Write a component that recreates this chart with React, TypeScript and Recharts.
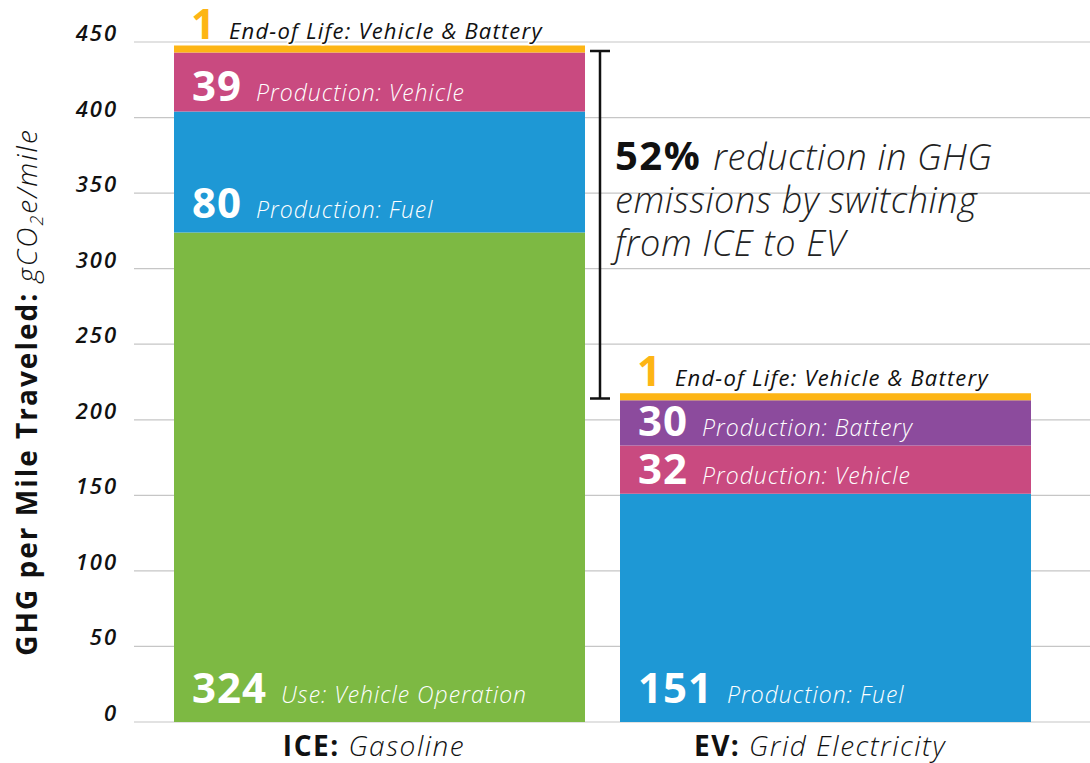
import { BarChart, Bar, XAxis, YAxis, CartesianGrid, LabelList, ReferenceLine } from 'recharts'

const vehicles = ['ICE', 'EV']
const fuelTypes = ['Gasoline', 'Grid Electricity']
const useOperation = [324, 0]
const productionFuel = [80, 151]
const productionVehicle = [39, 32]
const productionBattery = [0, 30]
const endOfLife = [1, 1]
const yTicks = [0, 50, 100, 150, 200, 250, 300, 350, 400, 450]
const reductionText = ['reduction in GHG', 'emissions by switching', 'from ICE to EV']
const reductionPct = '52%'

const FONT = "'Open Sans', sans-serif"
const GREEN = '#7DB943'
const BLUE = '#1E98D5'
const PINK = '#C94A80'
const PURPLE = '#8C4B9D'
const ORANGE = '#FDB515'

const data = vehicles.map((v, i) => ({
  name: v,
  fuel: fuelTypes[i],
  use: useOperation[i],
  prodFuel: productionFuel[i],
  prodVehicle: productionVehicle[i],
  prodBattery: productionBattery[i],
  eol: endOfLife[i],
}))

const totals = data.map(d => d.use + d.prodFuel + d.prodVehicle + d.prodBattery + d.eol)

// white number + italic description, sitting near the bottom of each segment
const segmentLabel = (desc: string) => (props: any) => {
  const { x, y, height, value } = props
  const v = Number(value)
  if (!v) return null
  const h = Number(height)
  const base = Number(y) + h - Math.min(19, 6 + h * 0.07)
  return (
    <text x={Number(x) + 18} y={base} fill="#fff" fontFamily={FONT}>
      <tspan fontSize={42} fontWeight={700} letterSpacing={1}>{v}</tspan>
      <tspan dx={14} fontSize={23} fontStyle="italic" fontWeight={300} letterSpacing={1}>{desc}</tspan>
    </text>
  )
}

const eolLabel = (props: any) => {
  const { x, y, value } = props
  return (
    <text
      x={Number(x) + 17}
      y={Number(y) - 7}
      fontFamily={FONT}
      stroke="#fff"
      strokeWidth={3}
      strokeLinejoin="round"
      paintOrder="stroke"
    >
      <tspan fontSize={42} fontWeight={700} fill={ORANGE}>{value}</tspan>
      <tspan dx={14} fontSize={22} fontStyle="italic" fontWeight={400} fill="#111" letterSpacing={1.2}>End-of Life: Vehicle &amp; Battery</tspan>
    </text>
  )
}

const YTick = ({ x, y, payload }: any) => (
  <text x={x} y={y - 1} textAnchor="end" fontFamily={FONT} fontSize={22} fontStyle="italic" fontWeight={600} letterSpacing={2} fill="#111">
    {payload.value}
  </text>
)

const XTick = ({ x, y, payload, index }: any) => (
  <text x={x - 5} y={y + 34} textAnchor="middle" fontFamily={FONT} fontSize={28} letterSpacing={1.5} fill="#111">
    <tspan fontWeight={700}>{payload.value}: </tspan>
    <tspan fontStyle="italic" fontWeight={300}>{fuelTypes[index]}</tspan>
  </text>
)

const YTitle = (props: any) => {
  const vb = props.viewBox || { y: 42, height: 680 }
  const cy = vb.y + vb.height / 2 + 10
  return (
    <text transform={`translate(37, ${cy}) rotate(-90)`} textAnchor="middle" fontFamily={FONT} fill="#111" letterSpacing={2}>
      <tspan fontSize={28} fontWeight={700}>GHG per Mile Traveled: </tspan>
      <tspan fontSize={28} fontStyle="italic" fontWeight={300}>gCO</tspan>
      <tspan fontSize={18} fontStyle="italic" fontWeight={300} dy={6}>2</tspan>
      <tspan fontSize={28} fontStyle="italic" fontWeight={300} dy={-6}>e/mile</tspan>
    </text>
  )
}

// bracket between the two stack tops, plus the reduction note
const Bracket = (props: any) => {
  const { x1, y1, y2 } = props
  const x = Number(x1) - 2
  const top = Math.min(y1, y2)
  const bot = Math.max(y1, y2)
  const tx = x + 15
  return (
    <g>
      <path
        d={`M${x - 10},${top} H${x + 10} M${x},${top} V${bot} M${x - 10},${bot} H${x + 10}`}
        stroke="#111"
        strokeWidth={2.5}
        fill="none"
      />
      <text x={tx} y={top + 119} fontFamily={FONT} fill="#222">
        <tspan fontSize={40} fontWeight={700} fill="#111" letterSpacing={1.5}>{reductionPct}</tspan>
        <tspan dx={12} fontSize={36} fontStyle="italic" fontWeight={300} letterSpacing={0.6}>{reductionText[0]}</tspan>
        <tspan x={tx} dy={43} fontSize={36} fontStyle="italic" fontWeight={300} letterSpacing={0.6}>{reductionText[1]}</tspan>
        <tspan x={tx} dy={43} fontSize={36} fontStyle="italic" fontWeight={300} letterSpacing={0.6}>{reductionText[2]}</tspan>
      </text>
    </g>
  )
}

export default function App() {
  return (
    <div style={{ position: 'absolute', left: 0, top: 0, background: '#fff' }}>
      <BarChart
        width={1090}
        height={763}
        data={data}
        margin={{ top: 42, right: 0, bottom: 0, left: 0 }}
        barSize={411}
      >
        <CartesianGrid vertical={false} stroke="#c6c6c6" strokeWidth={1.2} />
        <XAxis
          dataKey="name"
          axisLine={false}
          tickLine={false}
          tickSize={0}
          tickMargin={0}
          height={41}
          padding={{ left: 22, right: 42 }}
          tick={<XTick />}
          interval={0}
        />
        <YAxis
          width={134}
          domain={[0, 450]}
          ticks={yTicks}
          axisLine={false}
          tickLine={false}
          tickSize={0}
          tickMargin={16}
          tick={<YTick />}
          label={{ content: <YTitle /> } as any}
        />
        <Bar dataKey="use" stackId="a" fill={GREEN} isAnimationActive={false}>
          <LabelList dataKey="use" content={segmentLabel('Use: Vehicle Operation')} />
        </Bar>
        <Bar dataKey="prodFuel" stackId="a" fill={BLUE} isAnimationActive={false}>
          <LabelList dataKey="prodFuel" content={segmentLabel('Production: Fuel')} />
        </Bar>
        <Bar dataKey="prodVehicle" stackId="a" fill={PINK} isAnimationActive={false}>
          <LabelList dataKey="prodVehicle" content={segmentLabel('Production: Vehicle')} />
        </Bar>
        <Bar dataKey="prodBattery" stackId="a" fill={PURPLE} isAnimationActive={false}>
          <LabelList dataKey="prodBattery" content={segmentLabel('Production: Battery')} />
        </Bar>
        <Bar dataKey="eol" stackId="a" fill={ORANGE} minPointSize={7} isAnimationActive={false}>
          <LabelList dataKey="eol" content={eolLabel} />
        </Bar>
        <ReferenceLine
          segment={[{ x: 'ICE', y: totals[0] }, { x: 'ICE', y: totals[1] }]}
          position="end"
          shape={<Bracket />}
          ifOverflow="visible"
        />
      </BarChart>
    </div>
  )
}
